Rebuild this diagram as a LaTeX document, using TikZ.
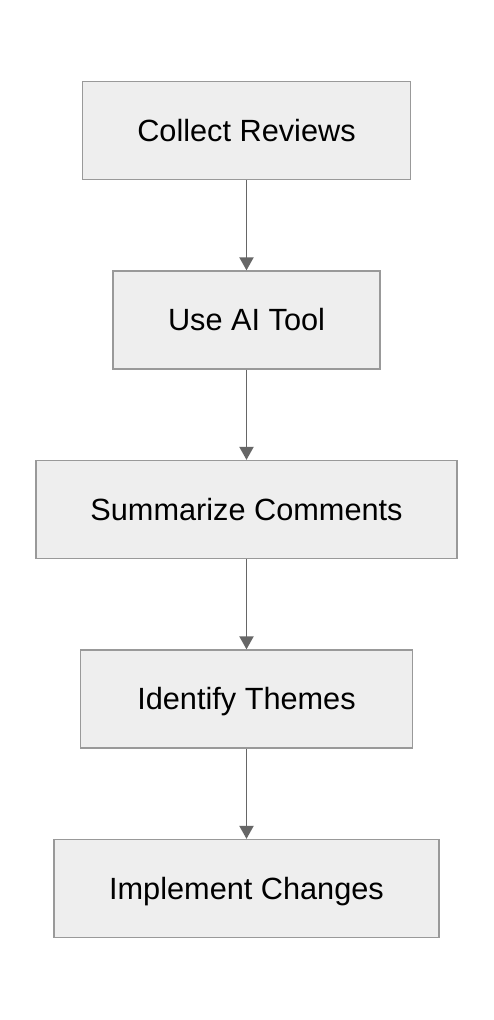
\documentclass[tikz,border=0pt]{standalone}
\usepackage{fontspec}
\setmainfont{Liberation Sans}
\usetikzlibrary{arrows.meta}
\definecolor{boxfill}{HTML}{EEEEEE}
\definecolor{boxline}{HTML}{999999}
\definecolor{arrowc}{HTML}{666666}
\begin{document}
\begin{tikzpicture}[x=1pt,y=1pt,
  stepbox/.style={draw=boxline, fill=boxfill, line width=1.3pt, minimum height=98pt,
    inner sep=0pt, text height=21pt, text depth=0pt,
    font=\fontsize{30.7}{36}\selectfont, text=black},
  flow/.style={draw=arrowc, line width=1.9pt, -{Triangle[width=14pt,length=13pt]}}]
\useasboundingbox (0,0) rectangle (494,-1020);
\fill[white] (0,0) rectangle (494,-1020);
\node[stepbox, minimum width=328pt] (a) at (246.5,-130.5) {Collect Reviews};
\node[stepbox, minimum width=267pt] (b) at (246.5,-320) {Use AI Tool};
\node[stepbox, minimum width=421pt] (c) at (246.5,-509.5) {Summarize Comments};
\node[stepbox, minimum width=332pt] (d) at (246.5,-699) {Identify Themes};
\node[stepbox, minimum width=385pt] (e) at (246.5,-888.5) {Implement Changes};
\draw[flow] (a) -- (b);
\draw[flow] (b) -- (c);
\draw[flow] (c) -- (d);
\draw[flow] (d) -- (e);
\end{tikzpicture}
\end{document}
